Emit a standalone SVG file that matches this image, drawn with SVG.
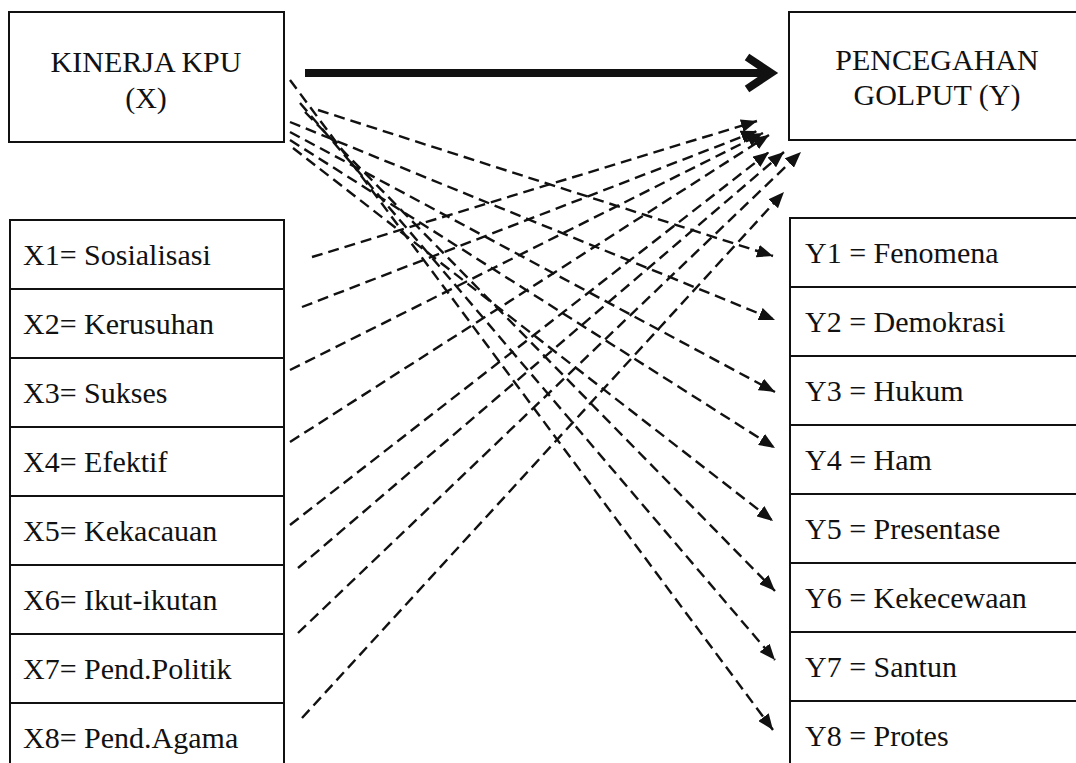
<svg xmlns="http://www.w3.org/2000/svg" width="1076" height="763" viewBox="0 0 1076 763">
<style>
.box{fill:#fff;stroke:#111;stroke-width:2}
.t{font-family:"Liberation Serif","Times New Roman",serif;font-size:30px;fill:#111}
.c{text-anchor:middle}
.d{fill:none;stroke:#111;stroke-width:2.4;stroke-dasharray:11 6;marker-end:url(#ah)}
</style>
<defs>
<marker id="ah" markerUnits="userSpaceOnUse" markerWidth="16" markerHeight="13" refX="16" refY="6.5" orient="auto">
<path d="M0,0 L16,6.5 L0,13 z" fill="#111"/>
</marker>
</defs>
<rect width="1076" height="763" fill="#fff"/>
<g id="kinerja">
<rect class="box" x="9" y="12" width="275" height="130"/>
<text class="t c" x="146" y="72">KINERJA KPU</text>
<text class="t c" x="146" y="108">(X)</text>
</g>
<g id="pencegahan">
<rect class="box" x="789" y="12" width="300" height="128"/>
<text class="t c" x="937" y="70">PENCEGAHAN</text>
<text class="t c" x="937" y="105">GOLPUT (Y)</text>
</g>
<g id="x1"><rect class="box" x="10" y="220" width="274" height="69"/><text class="t" x="23" y="265">X1= Sosialisasi</text></g>
<g id="x2"><rect class="box" x="10" y="289" width="274" height="69"/><text class="t" x="23" y="334">X2= Kerusuhan</text></g>
<g id="x3"><rect class="box" x="10" y="358" width="274" height="69"/><text class="t" x="23" y="403">X3= Sukses</text></g>
<g id="x4"><rect class="box" x="10" y="427" width="274" height="69"/><text class="t" x="23" y="472">X4= Efektif</text></g>
<g id="x5"><rect class="box" x="10" y="496" width="274" height="69"/><text class="t" x="23" y="541">X5= Kekacauan</text></g>
<g id="x6"><rect class="box" x="10" y="565" width="274" height="69"/><text class="t" x="23" y="610">X6= Ikut-ikutan</text></g>
<g id="x7"><rect class="box" x="10" y="634" width="274" height="69"/><text class="t" x="23" y="679">X7= Pend.Politik</text></g>
<g id="x8"><rect class="box" x="10" y="703" width="274" height="69"/><text class="t" x="23" y="748">X8= Pend.Agama</text></g>
<g id="y1"><rect class="box" x="790" y="218" width="300" height="69"/><text class="t" x="805" y="263">Y1 = Fenomena</text></g>
<g id="y2"><rect class="box" x="790" y="287" width="300" height="69"/><text class="t" x="805" y="332">Y2 = Demokrasi</text></g>
<g id="y3"><rect class="box" x="790" y="356" width="300" height="69"/><text class="t" x="805" y="401">Y3 = Hukum</text></g>
<g id="y4"><rect class="box" x="790" y="425" width="300" height="69"/><text class="t" x="805" y="470">Y4 = Ham</text></g>
<g id="y5"><rect class="box" x="790" y="494" width="300" height="69"/><text class="t" x="805" y="539">Y5 = Presentase</text></g>
<g id="y6"><rect class="box" x="790" y="563" width="300" height="69"/><text class="t" x="805" y="608">Y6 = Kekecewaan</text></g>
<g id="y7"><rect class="box" x="790" y="632" width="300" height="69"/><text class="t" x="805" y="677">Y7 = Santun</text></g>
<g id="y8"><rect class="box" x="790" y="701" width="300" height="69"/><text class="t" x="805" y="746">Y8 = Protes</text></g>
<g id="connectors">
<line x1="305" y1="73" x2="768" y2="73" stroke="#111" stroke-width="8"/>
<polyline points="747,57 771,73 747,89" fill="none" stroke="#111" stroke-width="8" stroke-linejoin="miter"/>
<line class="d" x1="312" y1="257" x2="757" y2="121"/>
<line class="d" x1="302" y1="307" x2="757" y2="131"/>
<line class="d" x1="290" y1="370" x2="763" y2="133"/>
<line class="d" x1="290" y1="442" x2="769" y2="135"/>
<line class="d" x1="290" y1="525" x2="769" y2="152"/>
<line class="d" x1="298" y1="568" x2="784" y2="152"/>
<line class="d" x1="298" y1="633" x2="801" y2="152"/>
<line class="d" x1="302" y1="718" x2="784" y2="192"/>
<line class="d" x1="318" y1="110" x2="773" y2="256"/>
<line class="d" x1="290" y1="122" x2="775" y2="320"/>
<line class="d" x1="290" y1="132" x2="775" y2="392"/>
<line class="d" x1="290" y1="140" x2="775" y2="448"/>
<line class="d" x1="293" y1="148" x2="773" y2="521"/>
<line class="d" x1="305" y1="112" x2="775" y2="591"/>
<line class="d" x1="300" y1="103" x2="775" y2="660"/>
<line class="d" x1="290" y1="80" x2="773" y2="730"/>
</g>
</svg>
